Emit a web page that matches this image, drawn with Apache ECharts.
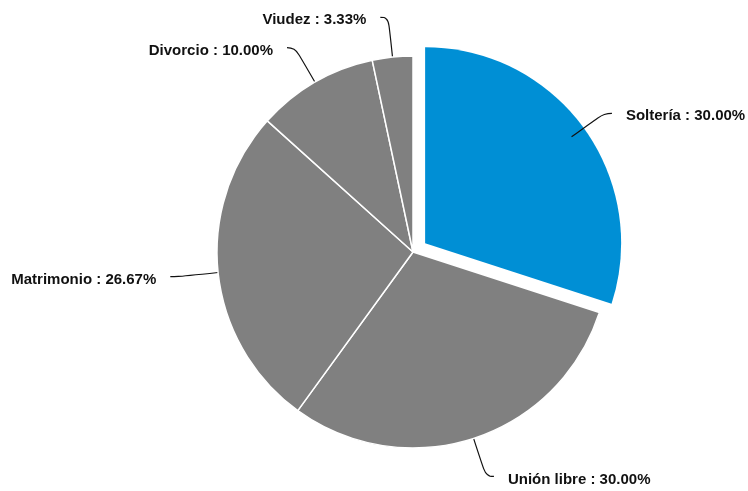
<!DOCTYPE html>
<html><head><meta charset="utf-8">
<script src="https://cdn.jsdelivr.net/npm/echarts@6/dist/echarts.min.js"></script>
<style>html,body{margin:0;padding:0;background:#fff}#c{width:748px;height:491px}</style>
</head><body><div id="c"></div>
<script>
var categories = ['Soltería', 'Unión libre', 'Matrimonio', 'Divorcio', 'Viudez'];
var values = [9, 9, 8, 3, 1];
var colors = ['#008fd5', '#808080', '#808080', '#808080', '#808080'];

var cx = 413, cy = 252, R = 196, offset = 15;
var total = values.reduce(function (a, b) { return a + b; }, 0);
var midAngle = (values[0] / total) * Math.PI; // half of first slice, from top, clockwise
var shiftedCenter = [cx + offset * Math.sin(midAngle), cy - offset * Math.cos(midAngle)];

var chart = echarts.init(document.getElementById('c'));
chart.setOption({
  animation: false,
  series: [{
    type: 'pie',
    z: 3,
    center: [cx, cy],
    radius: R,
    startAngle: 90,
    clockwise: true,
    avoidLabelOverlap: true,
    itemStyle: { borderColor: '#fff', borderWidth: 1.5 },
    label: {
      color: '#111',
      fontFamily: 'Liberation Sans, Arial, sans-serif',
      fontWeight: 'bold',
      fontSize: 15,
      overflow: 'none',
      distanceToLabelLine: 14,
      formatter: function (p) { return p.name + ' : ' + p.percent.toFixed(2) + '%'; }
    },
    labelLayout: { dy: 3 },
    labelLine: { length: 40, length2: 8, smooth: 0.5, lineStyle: { color: '#111', width: 1.2 } },
    data: categories.map(function (c, i) {
      return {
        name: c, value: values[i],
        itemStyle: i === 0 ? { color: 'rgba(0,0,0,0)', borderWidth: 0 } : { color: colors[i] }
      };
    })
  }, {
    type: 'pie',
    z: 2,
    center: shiftedCenter,
    radius: R,
    startAngle: 90,
    clockwise: true,
    silent: true,
    label: { show: false },
    labelLine: { show: false },
    itemStyle: { borderWidth: 0 },
    data: categories.map(function (c, i) {
      return {
        name: c, value: values[i],
        itemStyle: { color: i === 0 ? colors[0] : 'rgba(0,0,0,0)' }
      };
    })
  }]
});
</script></body></html>
